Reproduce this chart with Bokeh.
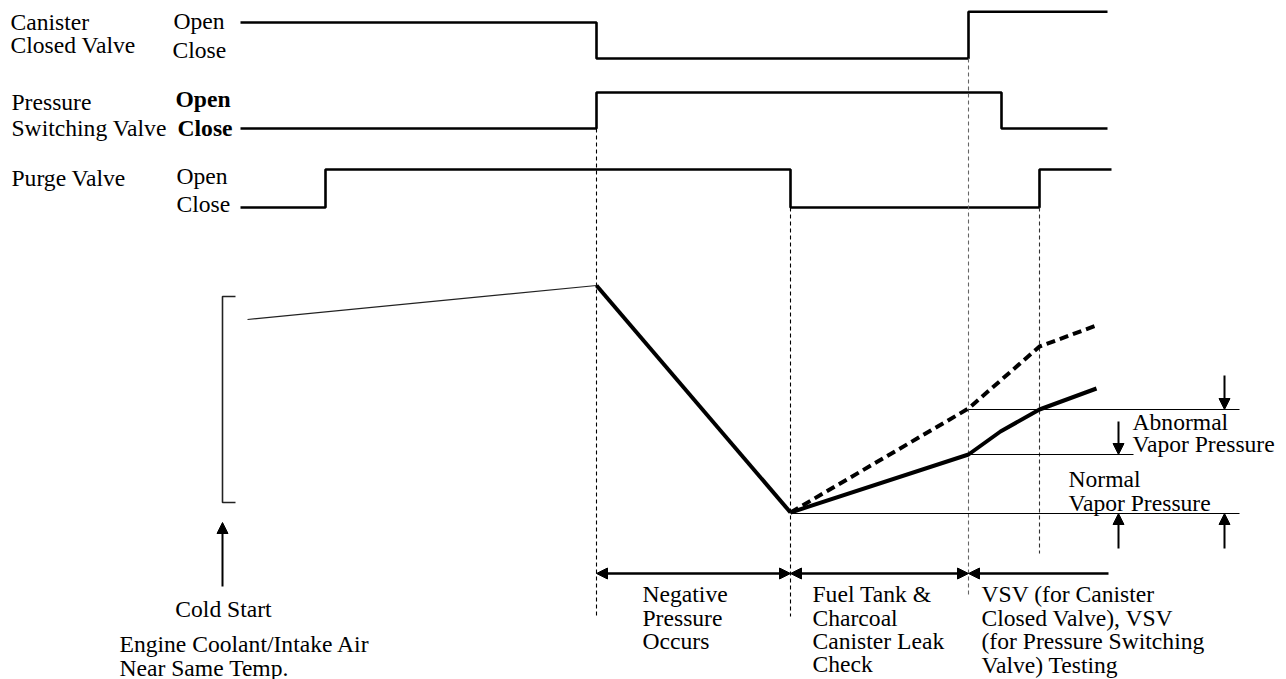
from bokeh.plotting import figure
from bokeh.models import Range1d, Arrow, NormalHead
from bokeh.core.properties import value
from bokeh.embed import file_html
from bokeh.resources import INLINE

FONT = "Liberation Serif"
FS = "23.6px"

# ---- valve timing: transition times and states (1 = Open, 0 = Close)
cc_times = [240, 596, 968, 1107]
cc_states = [1.0, 0.0, 1.3]
psv_times = [240, 596, 1001, 1107]
psv_states = [0, 1, 0]
pv_times = [240, 325, 790, 1039, 1111]
pv_states = [0, 1, 0, 1]
row_close_y = [58, 128, 207]
row_swing = [36, 36, 38]

# ---- vapor pressure curve
warm_x = [247, 596]
warm_y = [319, 285]
drop_x = [596, 790]
drop_y = [285, 512]
normal_x = [790, 968, 1000, 1039, 1096]
normal_y = [512, 454, 431, 409, 388]
abnormal_x = [790, 968, 1039, 1096]
abnormal_y = [512, 408, 346, 325]

# ---- threshold lines
thr_y = [409, 454, 513]
thr_x0 = [968, 968, 790]
thr_x1 = [1239, 1133, 1239]

# ---- event markers (dashed verticals)
ev_x = [596, 790, 968, 1039]
ev_y0 = [128, 207, 58, 207]
ev_y1 = [616, 616, 595, 553]
ev_color = ["black", "black", "#666666", "#333333"]

# ---- phase arrows
phase_x = [596, 790, 968, 1108]
phase_y = 573

# ---- labels
labels = ["Canister", "Closed Valve", "Open", "Close",
          "Pressure", "Switching Valve",
          "Purge Valve", "Open", "Close",
          "Negative", "Pressure", "Occurs",
          "Fuel Tank &", "Charcoal", "Canister Leak", "Check",
          "VSV (for Canister", "Closed Valve), VSV", "(for Pressure Switching", "Valve) Testing",
          "Abnormal", "Vapor Pressure", "Normal", "Vapor Pressure",
          "Engine Coolant/Intake Air", "Near Same Temp."]
labels_x = [10, 10, 173, 172, 11, 11, 11, 176, 176,
            642, 642, 642, 812, 812, 812, 812,
            981, 981, 981, 981, 1132, 1132, 1068, 1068, 119, 119]
labels_y = [21, 44, 20, 49, 101, 127, 177, 175, 203,
            593, 617, 640, 593, 617, 640, 663,
            593, 617, 640, 664, 421, 443, 478, 502, 643, 667]
bold_labels = ["Open", "Close"]
bold_x = [175, 177]
bold_y = [98, 127]

p = figure(width=1286, height=679, output_backend="svg", toolbar_location=None,
           x_range=Range1d(0, 1286), y_range=Range1d(679, 0), min_border=0)
p.axis.visible = False
p.grid.visible = False
p.outline_line_color = None
p.background_fill_color = "white"


def steps(times, states, base, swing):
    xs, ys = [], []
    for i, s in enumerate(states):
        y = base - s * swing
        xs += [times[i], times[i + 1]]
        ys += [y, y]
    return xs, ys


for (t, s), b, w in zip([(cc_times, cc_states), (psv_times, psv_states), (pv_times, pv_states)],
                        row_close_y, row_swing):
    xs, ys = steps(t, s, b, w)
    p.line(xs, ys, line_color="black", line_width=2.6)

# event dashed verticals
for x, y0, y1, c in zip(ev_x, ev_y0, ev_y1, ev_color):
    p.line([x, x], [y0, y1], line_color=c, line_width=1.1, line_dash="4 3")

# bracket
p.line([235, 222, 222, 235], [296, 296, 502, 502], line_color="#222222", line_width=1.6)

# pressure curves
p.line(warm_x, warm_y, line_color="#222222", line_width=1.2)
p.line(drop_x, drop_y, line_color="black", line_width=4)
p.line(normal_x, normal_y, line_color="black", line_width=4)
p.line(abnormal_x, abnormal_y, line_color="black", line_width=4, line_dash="9 5")

# thresholds
for y, x0, x1 in zip(thr_y, thr_x0, thr_x1):
    p.line([x0, x1], [y, y], line_color="black", line_width=1.2)


def head():
    return NormalHead(size=11, fill_color="black", line_color="black", line_width=1)


# phase arrows
p.add_layout(Arrow(x_start=phase_x[0], y_start=phase_y, x_end=phase_x[1], y_end=phase_y,
                   start=head(), end=head(), line_width=2.5))
p.add_layout(Arrow(x_start=phase_x[1], y_start=phase_y, x_end=phase_x[2], y_end=phase_y,
                   start=head(), end=head(), line_width=2.5))
p.add_layout(Arrow(x_start=phase_x[3], y_start=phase_y, x_end=phase_x[2], y_end=phase_y,
                   end=head(), line_width=2.5))

# cold start arrow
p.add_layout(Arrow(x_start=222, y_start=586, x_end=222, y_end=522, end=head(), line_width=2))

# vapor pressure arrows
for x, y0, y1 in [(1224, 375, 409), (1118, 421, 454), (1118, 548, 513), (1224, 548, 513)]:
    p.add_layout(Arrow(x_start=x, y_start=y0, x_end=x, y_end=y1, end=head(), line_width=2))

# labels
p.text(x=labels_x, y=labels_y, text=labels, text_font=value(FONT), text_font_size=FS,
       text_baseline="middle", text_align="left", text_color="black")
p.text(x=bold_x, y=bold_y, text=bold_labels, text_font=value(FONT), text_font_size=FS,
       text_font_style="bold", text_baseline="middle", text_align="left", text_color="black")
p.text(x=[223], y=[608], text=["Cold Start"], text_font=value(FONT), text_font_size=FS,
       text_baseline="middle", text_align="center", text_color="black")

open("out.html", "w").write(file_html(p, INLINE))
